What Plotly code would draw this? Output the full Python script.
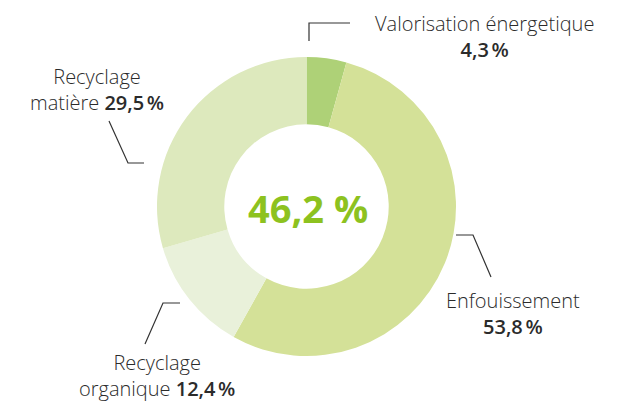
import plotly.graph_objects as go

# ---- data ----
categories = ["Valorisation énergetique", "Enfouissement", "Recyclage organique", "Recyclage matière"]
values = [4.3, 53.8, 12.4, 29.5]
colors = ["#aed177", "#d4e198", "#e9f1da", "#dde9bd"]
center_label = "46,2 %"

# page body has an 8px margin; size the figure so it fits the window
OFF = 8
W, H = 634 - OFF, 403 - OFF


def px(x, y):
    return (x - OFF) / W, 1 - (y - OFF) / H


def fmt(v):
    return f"{v:.1f}".replace(".", ",") + "\u202f%"


def strong(t):
    return f'<span style="font-weight:600">{t}</span>'


cx, cy, R = 306.5, 206.5, 149.5
x0, y0 = px(cx - R, cy + R)
x1, y1 = px(cx + R, cy - R)

fig = go.Figure(go.Pie(
    labels=categories,
    values=values,
    sort=False,
    direction="clockwise",
    rotation=0,
    hole=0.55,
    marker=dict(colors=colors, line=dict(width=0)),
    textinfo="none",
    hoverinfo="label+value",
    domain=dict(x=[x0, x1], y=[y0, y1]),
    showlegend=False,
))

FONT = "Open Sans"
TXT = "#2b2b2b"

annos = []


def label(x, y, text, size=20):
    ax, ay = px(x, y)
    annos.append(dict(x=ax, y=ay, xref="paper", yref="paper", text=text, showarrow=False,
                      xanchor="center", yanchor="middle", align="center",
                      font=dict(family=FONT, size=size, color=TXT, weight=300)))


label(484, 36, f"{categories[0]}<br>{strong(fmt(values[0]))}")
label(513, 313, f"{categories[1]}<br>{strong(fmt(values[1]))}")
label(157, 375, f"Recyclage<br>organique {strong(fmt(values[2]))}")
label(96.5, 89.5, f"Recyclage<br>matière {strong(fmt(values[3]))}")

# center value
cxp, cyp = px(cx + 1, cy + 1)
annos.append(dict(x=cxp, y=cyp, xref="paper", yref="paper", text=f"<b>{center_label}</b>",
                  showarrow=False, xanchor="center", yanchor="middle",
                  font=dict(family=FONT, size=38, color="#8dc21f")))

leaders = [
    [(309, 41), (309, 23), (350, 23)],
    [(456, 235), (473, 235), (491, 277)],
    [(180, 303), (163, 303), (145, 344)],
    [(144, 163), (128, 163), (109, 121)],
]
shapes = []
for pts in leaders:
    pp = [px(*p) for p in pts]
    path = "M " + " L ".join(f"{a},{b}" for a, b in pp)
    shapes.append(dict(type="path", path=path, xref="paper", yref="paper",
                       line=dict(color="#333333", width=1.2)))

fig.update_layout(
    width=W, height=H,
    margin=dict(l=0, r=0, t=0, b=0),
    paper_bgcolor="white", plot_bgcolor="white",
    annotations=annos, shapes=shapes,
)

fig.write_html("out.html")
